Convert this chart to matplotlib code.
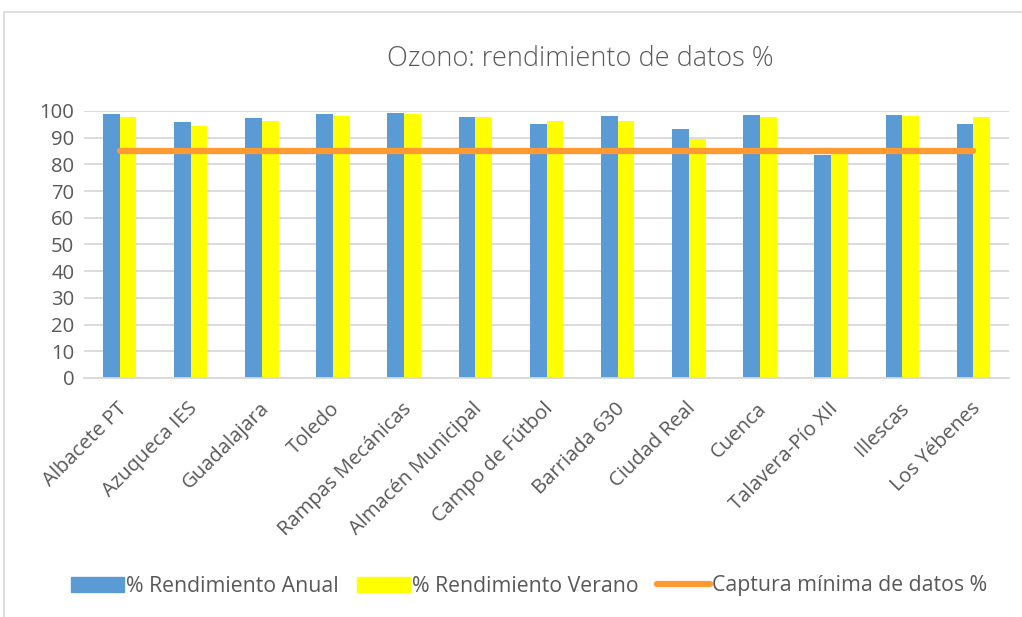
import numpy as np
import matplotlib.pyplot as plt
import matplotlib.transforms as mtransforms
from matplotlib.patches import Rectangle, Patch
from matplotlib.lines import Line2D

estaciones = ["Albacete PT", "Azuqueca IES", "Guadalajara", "Toledo", "Rampas Mecánicas",
              "Almacén Municipal", "Campo de Fútbol", "Barriada 630", "Ciudad Real", "Cuenca",
              "Talavera-Pío XII", "Illescas", "Los Yébenes"]
anual = [98.8, 96.0, 97.3, 98.8, 99.4, 97.8, 95.0, 98.2, 93.1, 98.4, 83.5, 98.4, 95.3]
verano = [97.6, 94.4, 96.4, 98.2, 98.7, 97.8, 96.4, 96.4, 89.4, 97.8, 86.0, 98.2, 97.8]
captura = [85] * len(estaciones)
yticks = list(range(0, 101, 10))

gris = "#595959"
plt.rcParams['font.family'] = ['Open Sans', 'DejaVu Sans']

fig = plt.figure(figsize=(10.22, 6.17), dpi=100)
ax = fig.add_axes([0.0822, 0.3874, 0.9051, 0.4327])

# marco del grafico
fig.patches.append(Rectangle((4 / 1022, -0.1), 1.2, 1 - 12 / 617 + 0.1,
                             transform=fig.transFigure, fill=False,
                             edgecolor="#D9D9D9", lw=1.2))

x = np.arange(len(estaciones))
w = 0.235
ax.bar(x - w / 2, anual, w, color="#5B9BD5", zorder=2)
ax.bar(x + w / 2, verano, w, color="#FFFF00", zorder=2)
ax.plot(x, captura, color="#FF9A33", lw=4.5, solid_capstyle="round", zorder=3)

ax.set_xlim(-0.5, len(estaciones) - 0.5)
ax.set_ylim(0, 100)
ax.set_yticks(yticks)
ax.yaxis.grid(True, color="#D9D9D9", lw=1.3, zorder=0)
ax.set_axisbelow(True)
for s in ["top", "right", "left"]:
    ax.spines[s].set_visible(False)
ax.spines["bottom"].set_color("#D9D9D9")
ax.spines["bottom"].set_linewidth(1.3)
ax.tick_params(length=0, labelsize=14.6, labelcolor=gris)
ax.tick_params(axis="y", pad=7)
ax.set_xticks(x)
ax.set_xticklabels(estaciones, rotation=45, ha="right", va="center",
                   rotation_mode="anchor")
ax.tick_params(axis="x", pad=20)
desplaza = mtransforms.ScaledTranslation(4 / 100, 0, fig.dpi_scale_trans)
for lab in ax.get_xticklabels():
    lab.set_transform(lab.get_transform() + desplaza)

fig.text(580 / 1022, 1 - 59 / 617, "Ozono: rendimiento de datos %", ha="center",
         va="center", fontsize=19.5, color=gris, fontweight="light")

handles = [Patch(color="#5B9BD5"), Patch(color="#FFFF00"),
           Line2D([], [], color="#FF9A33", lw=4.5, solid_capstyle="round")]
labels = ["% Rendimiento Anual", "% Rendimiento Verano", "Captura mínima de datos %"]
fig.legend(handles, labels, loc="center", bbox_to_anchor=(529 / 1022, 1 - 586 / 617),
           ncol=3, frameon=False, fontsize=15.3, labelcolor=gris,
           handlelength=2.5, handleheight=0.7, handletextpad=0.1, columnspacing=0.85)

fig.savefig("out.png", dpi=100)
